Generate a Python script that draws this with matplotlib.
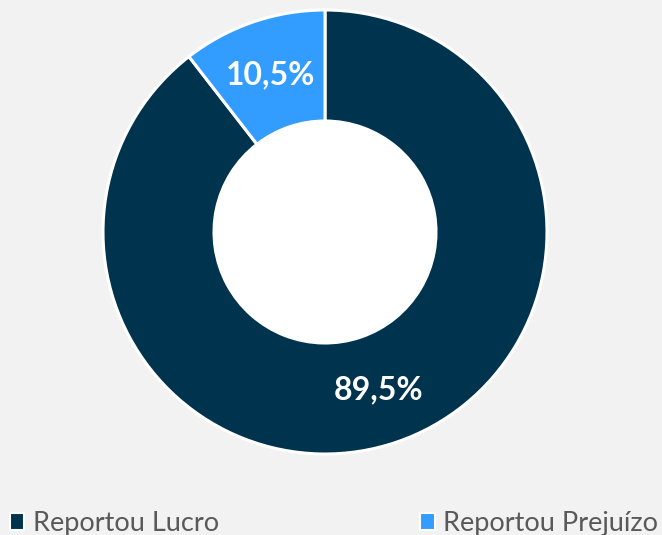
import matplotlib.pyplot as plt
from matplotlib.patches import Patch, Circle

labels = ['Reportou Lucro', 'Reportou Prejuízo']
values = [89.5, 10.5]
colors = ['#00334E', '#339CFF']

plt.rcParams['font.family'] = ['Lato', 'DejaVu Sans']

fig = plt.figure(figsize=(6.62, 5.35), dpi=100)
fig.patch.set_facecolor('#F2F2F2')

# donut axes
ax = fig.add_axes([(325 - 222) / 662, (535 - 232 - 222) / 535, 444 / 662, 444 / 535])
ax.set_facecolor('none')

wedges, texts, autotexts = ax.pie(
    values, colors=colors, startangle=90, counterclock=False,
    autopct=lambda p: f'{p:.1f}'.replace('.', ',') + '%',
    pctdistance=0.75,
    wedgeprops=dict(width=0.5, edgecolor='white', linewidth=2.2),
    textprops=dict(color='white', fontsize=23, fontweight='bold'))
ax.add_patch(Circle((0, 0), 0.5, facecolor='white', edgecolor='none', zorder=0))
ax.set_xlim(-1.0, 1.0)
ax.set_ylim(-1.0, 1.0)
ax.set_aspect('equal')

handles = [Patch(facecolor=c, edgecolor='white', linewidth=1.5) for c in colors]
leg = fig.legend(handles, labels, loc='lower left', ncol=2, mode='expand',
                 bbox_to_anchor=(-0.002, -0.022, 1.012, 0.05), frameon=False,
                 fontsize=19.5, handlelength=0.55, handleheight=0.55,
                 handletextpad=0.3, borderaxespad=0)
for t in leg.get_texts():
    t.set_color('#595959')

fig.savefig('out.png', dpi=100, facecolor=fig.get_facecolor())
